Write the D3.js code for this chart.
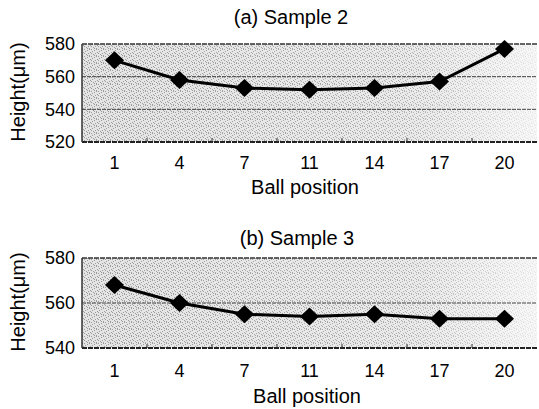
<!DOCTYPE html>
<html>
<head>
<meta charset="utf-8">
<script src="https://cdn.jsdelivr.net/npm/d3@7"></script>
<style>
  body { margin: 0; background: #fff; }
  svg { display: block; font-family: "Liberation Sans", Arial, sans-serif; }
</style>
</head>
<body>
<div id="chart"></div>
<script>
// data
const positions = ["1", "4", "7", "11", "14", "17", "20"];
const sample2 = [570, 558, 553, 552, 553, 557, 577];
const sample3 = [568, 560, 555, 554, 555, 553, 553];
const yTicks2 = [520, 540, 560, 580];
const yTicks3 = [540, 560, 580];

const width = 539, height = 409;

const svg = d3.select("#chart").append("svg")
    .attr("width", width)
    .attr("height", height);

const defs = svg.append("defs");

// light grey base, fading out to the right
const grad = defs.append("linearGradient")
    .attr("id", "bg")
    .attr("x1", "0%").attr("x2", "100%");
grad.append("stop").attr("offset", "0%").attr("stop-color", "#e4e4e4");
grad.append("stop").attr("offset", "75%").attr("stop-color", "#eaeaea");
grad.append("stop").attr("offset", "100%").attr("stop-color", "#f7f7f7");

// stipple dots (fixed tile)
const pat = defs.append("pattern")
    .attr("id", "dots")
    .attr("patternUnits", "userSpaceOnUse")
    .attr("width", 7).attr("height", 7);
[[0, 0], [3, 1], [5, 0], [1, 2], [6, 3], [4, 4], [2, 5], [0, 4], [5, 6], [3, 6]].forEach(([px, py]) => {
    pat.append("rect")
        .attr("x", px).attr("y", py)
        .attr("width", 1).attr("height", 1)
        .attr("fill", "#7a7a7a");
});

const fade = defs.append("linearGradient")
    .attr("id", "fade")
    .attr("x1", "0%").attr("x2", "100%");
fade.append("stop").attr("offset", "0%").attr("stop-color", "#fff").attr("stop-opacity", 0.7);
fade.append("stop").attr("offset", "70%").attr("stop-color", "#fff").attr("stop-opacity", 0.55);
fade.append("stop").attr("offset", "100%").attr("stop-color", "#fff").attr("stop-opacity", 0.12);
defs.append("mask")
    .attr("id", "fadeMask")
    .attr("maskContentUnits", "objectBoundingBox")
    .append("rect")
    .attr("width", 1).attr("height", 1)
    .attr("fill", "url(#fade)");

const panels = [
    {title: "(a) Sample 2", values: sample2, ticks: yTicks2, domain: [520, 580],
     top: 44, bottom: 142, titleX: 291, titleY: 24, labelX: 305, tickY: 169, labelY: 194},
    {title: "(b) Sample 3", values: sample3, ticks: yTicks3, domain: [540, 580],
     top: 258, bottom: 348, titleX: 297, titleY: 245, labelX: 307, tickY: 377, labelY: 403}
];

const left = 82, right = 537;

panels.forEach(p => {
    const g = svg.append("g");

    const x = d3.scaleBand()
        .domain(positions)
        .range([left, right]);

    const y = d3.scaleLinear()
        .domain(p.domain)
        .range([p.bottom, p.top]);

    // plot area
    g.append("rect")
        .attr("x", left)
        .attr("y", p.top)
        .attr("width", right - left)
        .attr("height", p.bottom - p.top)
        .attr("fill", "url(#bg)");
    g.append("rect")
        .attr("x", left)
        .attr("y", p.top)
        .attr("width", right - left)
        .attr("height", p.bottom - p.top)
        .attr("fill", "url(#dots)")
        .attr("mask", "url(#fadeMask)");

    // grid lines
    g.selectAll(".grid")
        .data(p.ticks.filter(t => t !== p.domain[0] && t !== p.domain[1]))
        .enter().append("line")
        .attr("x1", left).attr("x2", right)
        .attr("y1", d => y(d)).attr("y2", d => y(d))
        .attr("stroke", "#444")
        .attr("stroke-width", 1)
        .attr("stroke-dasharray", "4,1");

    // frame
    g.append("line")
        .attr("x1", left).attr("x2", right)
        .attr("y1", p.top).attr("y2", p.top)
        .attr("stroke", "#333").attr("stroke-width", 1.5)
        .attr("stroke-dasharray", "5,1");
    g.append("line")
        .attr("x1", left).attr("x2", right)
        .attr("y1", p.bottom).attr("y2", p.bottom)
        .attr("stroke", "#222").attr("stroke-width", 2)
        .attr("stroke-dasharray", "5,1");
    g.append("line")
        .attr("x1", left).attr("x2", left)
        .attr("y1", p.top).attr("y2", p.bottom)
        .attr("stroke", "#333").attr("stroke-width", 1.5);

    // small ticks between categories
    g.selectAll(".mtick")
        .data(positions.slice(1))
        .enter().append("line")
        .attr("x1", d => x(d)).attr("x2", d => x(d))
        .attr("y1", p.bottom).attr("y2", p.bottom - 4)
        .attr("stroke", "#333").attr("stroke-width", 1);

    // y tick labels
    g.selectAll(".ylab")
        .data(p.ticks)
        .enter().append("text")
        .attr("x", left - 7)
        .attr("y", d => y(d))
        .attr("dy", "0.35em")
        .attr("text-anchor", "end")
        .attr("font-size", 18)
        .text(d => d);

    // x tick labels
    g.selectAll(".xlab")
        .data(positions)
        .enter().append("text")
        .attr("x", d => x(d) + x.bandwidth() / 2)
        .attr("y", p.tickY)
        .attr("text-anchor", "middle")
        .attr("font-size", 18)
        .text(d => d);

    // line
    const line = d3.line()
        .x((d, i) => x(positions[i]) + x.bandwidth() / 2)
        .y(d => y(d));

    g.append("path")
        .attr("d", line(p.values))
        .attr("fill", "none")
        .attr("stroke", "#000")
        .attr("stroke-width", 3);

    // diamond markers
    g.selectAll(".pt")
        .data(p.values)
        .enter().append("path")
        .attr("transform", (d, i) => `translate(${x(positions[i]) + x.bandwidth() / 2},${y(d)})`)
        .attr("d", "M0,-9L9.5,0L0,9L-9.5,0Z")
        .attr("fill", "#000");

    // titles
    g.append("text")
        .attr("x", p.titleX)
        .attr("y", p.titleY)
        .attr("text-anchor", "middle")
        .attr("font-size", 20)
        .text(p.title);

    g.append("text")
        .attr("x", p.labelX)
        .attr("y", p.labelY)
        .attr("text-anchor", "middle")
        .attr("font-size", 20)
        .text("Ball position");

    g.append("text")
        .attr("transform", `translate(25,${(p.top + p.bottom) / 2 - 1}) rotate(-90)`)
        .attr("text-anchor", "middle")
        .attr("font-size", 20)
        .text("Height(μm)");
});
</script>
</body>
</html>
